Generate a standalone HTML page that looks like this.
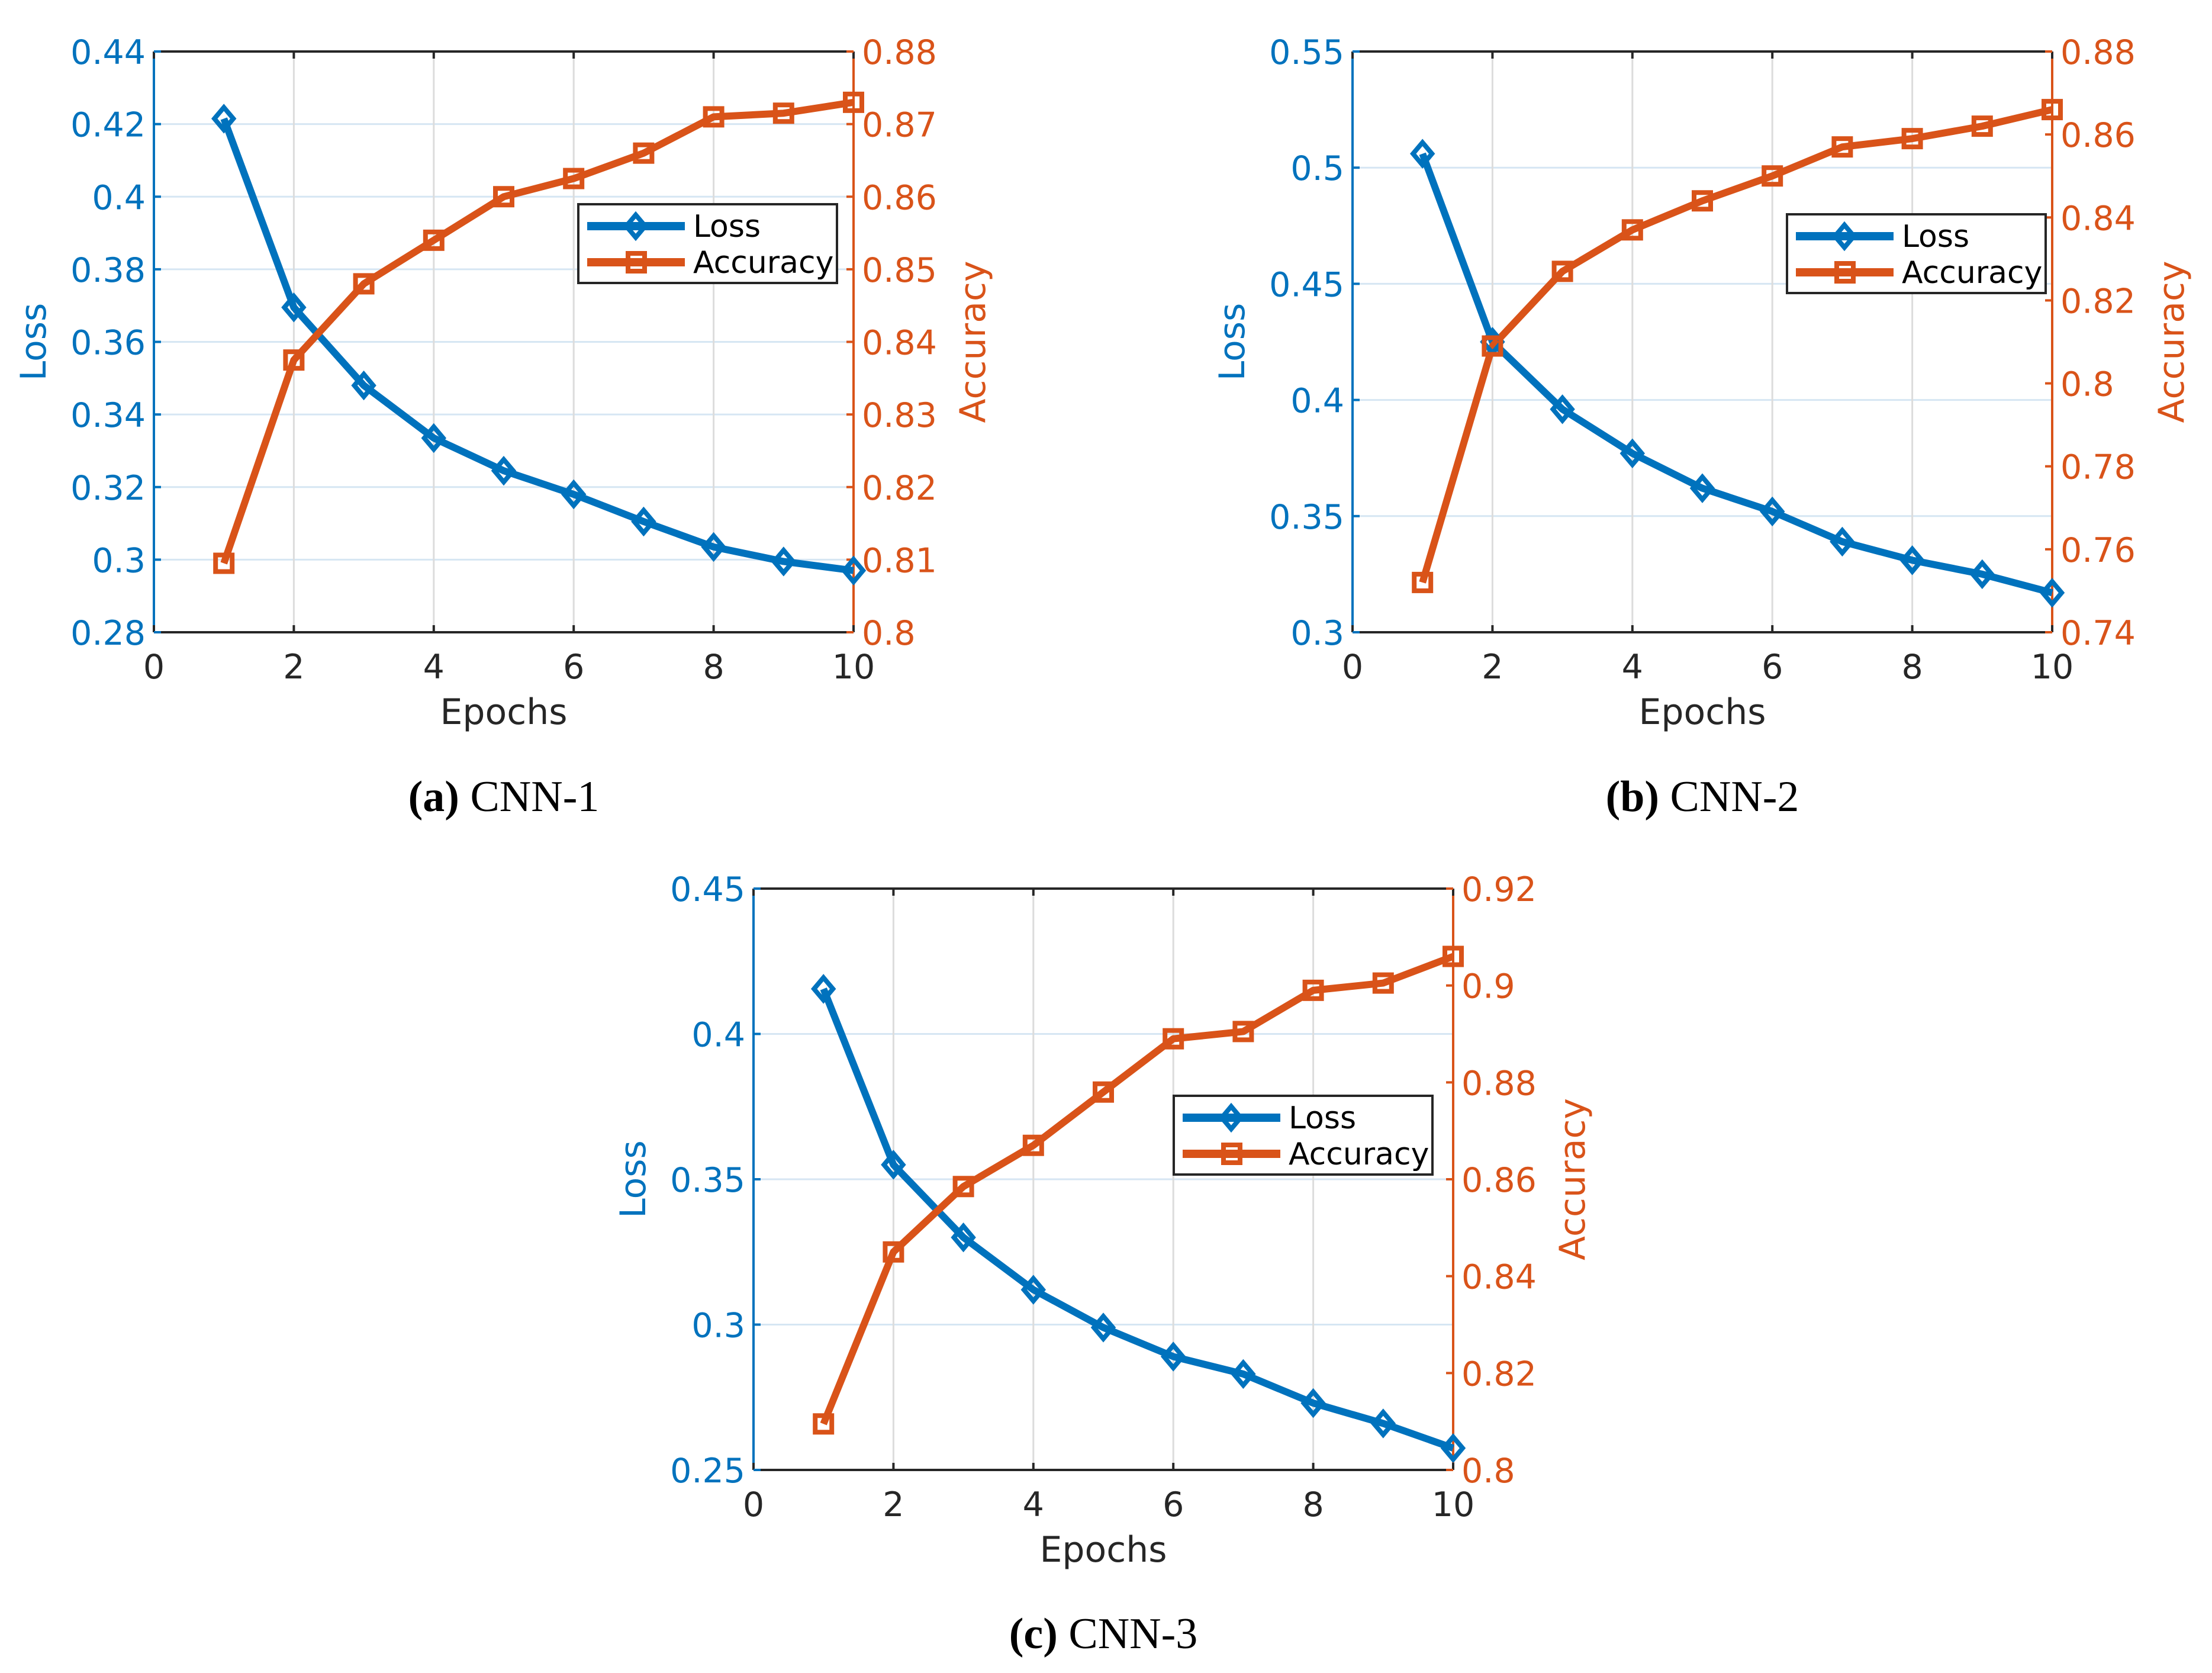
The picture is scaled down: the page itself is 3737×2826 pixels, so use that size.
<!DOCTYPE html>
<html><head><meta charset="utf-8">
<style>
html,body{margin:0;padding:0;background:#fff;}
svg{display:block;}
text{font-family:"DejaVu Sans","Liberation Sans",sans-serif;}
.cap{font-family:"Liberation Serif",serif;}
</style></head>
<body>
<svg id="fig" width="3737" height="2826" viewBox="0 0 3737 2826" xmlns="http://www.w3.org/2000/svg"></svg>
<script>
const epochs = [1,2,3,4,5,6,7,8,9,10];
const xTicks = [0,2,4,6,8,10];
const lossA = [0.4215,0.3695,0.348,0.3335,0.3245,0.318,0.3105,0.3035,0.2995,0.297];
const accA  = [0.8095,0.8375,0.848,0.854,0.860,0.8625,0.866,0.871,0.8715,0.873];
const lossTicksA = ["0.28","0.3","0.32","0.34","0.36","0.38","0.4","0.42","0.44"];
const accTicksA  = ["0.8","0.81","0.82","0.83","0.84","0.85","0.86","0.87","0.88"];
const lossB = [0.506,0.425,0.396,0.377,0.362,0.352,0.339,0.331,0.325,0.317];
const accB  = [0.752,0.809,0.827,0.837,0.844,0.850,0.857,0.859,0.862,0.866];
const lossTicksB = ["0.3","0.35","0.4","0.45","0.5","0.55"];
const accTicksB  = ["0.74","0.76","0.78","0.8","0.82","0.84","0.86","0.88"];
const lossC = [0.4155,0.355,0.33,0.312,0.299,0.289,0.283,0.273,0.266,0.2575];
const accC  = [0.8095,0.845,0.8585,0.867,0.878,0.889,0.8905,0.899,0.9005,0.906];
const lossTicksC = ["0.25","0.3","0.35","0.4","0.45"];
const accTicksC  = ["0.8","0.82","0.84","0.86","0.88","0.9","0.92"];

const BLUE="#0072BD", ORANGE="#D95319";
const NS="http://www.w3.org/2000/svg";
const svg=document.getElementById('fig');
function mk(tag,attrs,parent){const e=document.createElementNS(NS,tag);for(const k in attrs)e.setAttribute(k,attrs[k]);(parent||svg).appendChild(e);return e;}

function panel(id,L,T,R,B,loss,acc,lt,at,legend,capLetter,capName,capY){
  const g=mk('g',{});
  
  
  const lMin=+lt[0],lMax=+lt[lt.length-1],aMin=+at[0],aMax=+at[at.length-1];
  const xs=v=>L+(v-0)/(10-0)*(R-L);
  const yl=v=>B-(v-lMin)/(lMax-lMin)*(B-T);
  const ya=v=>B-(v-aMin)/(aMax-aMin)*(B-T);
  lt.forEach(t=>{const y=yl(+t);const ln=mk('line',{x1:L,x2:R,y1:y,y2:y,stroke:"#d6e6f3","stroke-width":3},g);
    });
  xTicks.forEach(t=>{const x=xs(t);const ln=mk('line',{x1:x,x2:x,y1:T,y2:B,stroke:"#dcdcdc","stroke-width":3},g);
    });
  mk('line',{x1:L,x2:R,y1:T,y2:T,stroke:"#262626","stroke-width":4},g);
  mk('line',{x1:L,x2:R,y1:B,y2:B,stroke:"#262626","stroke-width":4},g);
  mk('line',{x1:L,x2:L,y1:T,y2:B,stroke:BLUE,"stroke-width":4},g);
  mk('line',{x1:R,x2:R,y1:T,y2:B,stroke:ORANGE,"stroke-width":4},g);
  xTicks.forEach(t=>{const x=xs(t);
    mk('line',{x1:x,x2:x,y1:B,y2:B-12,stroke:"#262626","stroke-width":4},g);
    mk('line',{x1:x,x2:x,y1:T,y2:T+12,stroke:"#262626","stroke-width":4},g);
    const tx=mk('text',{x:x,y:B+78,"font-size":57,fill:"#262626","text-anchor":"middle"},g);tx.textContent=t;
    });
  lt.forEach(t=>{const y=yl(+t);
    mk('line',{x1:L,x2:L+12,y1:y,y2:y,stroke:BLUE,"stroke-width":4},g);
    const tx=mk('text',{x:L-14,y:y+21,"font-size":57,fill:BLUE,"text-anchor":"end"},g);tx.textContent=t;
    });
  at.forEach(t=>{const y=ya(+t);
    mk('line',{x1:R,x2:R-12,y1:y,y2:y,stroke:ORANGE,"stroke-width":4},g);
    const tx=mk('text',{x:R+14,y:y+21,"font-size":57,fill:ORANGE,"text-anchor":"start"},g);tx.textContent=t;
    });
  const cy=(T+B)/2;
  let t1=mk('text',{x:0,y:0,"font-size":60,fill:BLUE,"text-anchor":"middle",transform:`translate(${L-183},${cy}) rotate(-90)`},g);t1.textContent="Loss";
  
  let t2=mk('text',{x:0,y:0,"font-size":60,fill:ORANGE,"text-anchor":"middle",transform:`translate(${R+222},${cy}) rotate(-90)`},g);t2.textContent="Accuracy";
  
  let t3=mk('text',{x:(L+R)/2,y:B+155,"font-size":60,fill:"#262626","text-anchor":"middle"},g);t3.textContent="Epochs";
  
  const lp=epochs.map((e,i)=>xs(e)+','+yl(loss[i])).join(' ');
  const ap=epochs.map((e,i)=>xs(e)+','+ya(acc[i])).join(' ');
  const pl=mk('polyline',{points:lp,fill:"none",stroke:BLUE,"stroke-width":12,"stroke-linejoin":"round"},g);
  
  const pa=mk('polyline',{points:ap,fill:"none",stroke:ORANGE,"stroke-width":12,"stroke-linejoin":"round"},g);
  
  epochs.forEach((e,i)=>{
    const x=xs(e),y=yl(loss[i]);
    const d=mk('polygon',{points:`${x},${y-19} ${x+16},${y} ${x},${y+19} ${x-16},${y}`,fill:"none",stroke:BLUE,"stroke-width":8},g);
    
    const y2=ya(acc[i]);
    const s=mk('rect',{x:x-14,y:y2-14,width:28,height:28,fill:"none",stroke:ORANGE,"stroke-width":8},g);
    
  });
  const [lx,ly]=legend;
  const lg=mk('g',{},g);
  
  mk('rect',{x:lx,y:ly,width:437,height:133,fill:"#fff",stroke:"#262626","stroke-width":4},lg);
  [[BLUE,"Loss",37],[ORANGE,"Accuracy",98]].forEach(([c,lab,dy],k)=>{
    const yy=ly+dy;
    mk('line',{x1:lx+15,x2:lx+180,y1:yy,y2:yy,stroke:c,"stroke-width":14},lg);
    if(k===0) mk('polygon',{points:`${lx+97},${yy-19} ${lx+113},${yy} ${lx+97},${yy+19} ${lx+81},${yy}`,fill:"none",stroke:c,"stroke-width":8},lg);
    else mk('rect',{x:lx+84,y:yy-15,width:28,height:30,fill:"none",stroke:c,"stroke-width":8},lg);
    const tx=mk('text',{x:lx+194,y:yy+18,"font-size":52,fill:"#000"},lg);tx.textContent=lab;
    
  });
  const cap=mk('text',{x:(L+R)/2,y:capY,"font-size":74,fill:"#000","text-anchor":"middle",class:"cap"},g);
  
  const b=mk('tspan',{"font-weight":"bold"},cap);b.textContent="("+capLetter+")";
  const n=mk('tspan',{},cap);n.textContent=" "+capName;
}
panel('a',260,87,1442,1068,lossA,accA,lossTicksA,accTicksA,[977,345],'a','CNN-1',1370);
panel('b',2285,87,3467,1068,lossB,accB,lossTicksB,accTicksB,[3019,362],'b','CNN-2',1370);
panel('c',1273,1501,2455,2483,lossC,accC,lossTicksC,accTicksC,[1983,1851],'c','CNN-3',2784);
</script>
</body></html>
